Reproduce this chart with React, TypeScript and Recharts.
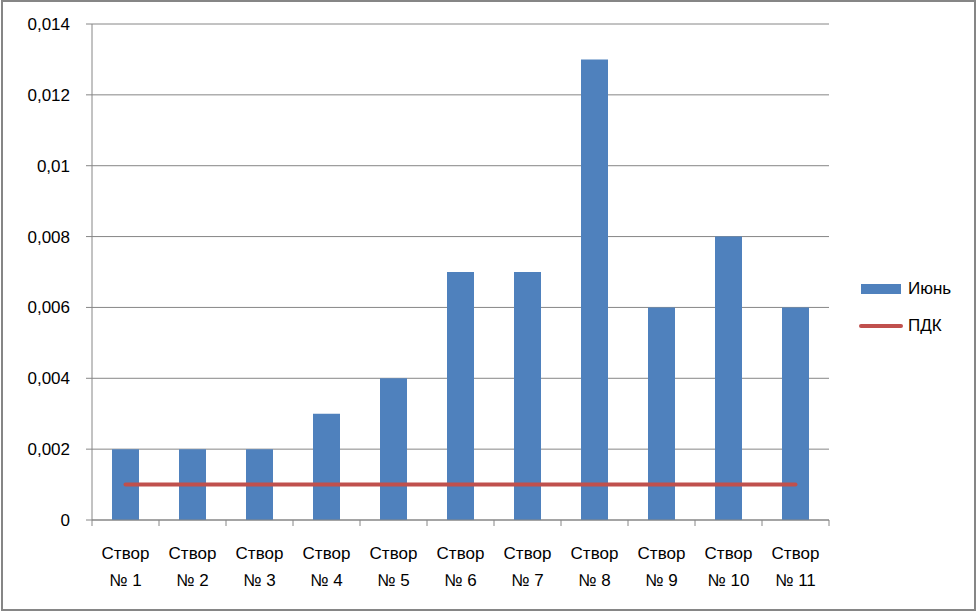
import React from 'react';
import { ComposedChart, Bar, Line, XAxis, YAxis, CartesianGrid, Legend } from 'recharts';

const categories = ['Створ № 1', 'Створ № 2', 'Створ № 3', 'Створ № 4', 'Створ № 5', 'Створ № 6', 'Створ № 7', 'Створ № 8', 'Створ № 9', 'Створ № 10', 'Створ № 11'];
const june = [0.002, 0.002, 0.002, 0.003, 0.004, 0.007, 0.007, 0.013, 0.006, 0.008, 0.006];
const pdk = [0.001, 0.001, 0.001, 0.001, 0.001, 0.001, 0.001, 0.001, 0.001, 0.001, 0.001];
const yTicks = [0, 0.002, 0.004, 0.006, 0.008, 0.01, 0.012, 0.014];

const data = categories.map((c, i) => ({ name: c, june: june[i], pdk: pdk[i] }));

const FONT = '"Liberation Sans", Arial, sans-serif';
const AXIS = '#868686';

const fmt = (v: number) => (v === 0 ? '0' : String(Number(v.toFixed(3))).replace('.', ','));

const XTick = (props: any) => {
  const { x, y, payload, index, visibleTicksCount, width } = props;
  const band = width / visibleTicksCount;
  const parts = String(payload.value).split(' ');
  const l1 = parts[0];
  const l2 = parts.slice(1).join(' ');
  const left = x - band / 2;
  return (
    <g>
      <line x1={left} x2={left} y1={y} y2={y + 6} stroke={AXIS} strokeWidth={1} />
      {index === visibleTicksCount - 1 && (
        <line x1={x + band / 2} x2={x + band / 2} y1={y} y2={y + 6} stroke={AXIS} strokeWidth={1} />
      )}
      <text x={x} y={y + 39} textAnchor="middle" fontFamily={FONT} fontSize={17} fill="#000">{l1}</text>
      <text x={x} y={y + 66} textAnchor="middle" fontFamily={FONT} fontSize={17} fill="#000">{l2}</text>
    </g>
  );
};

const LegendContent = (props: any) => {
  const { payload } = props;
  return (
    <div style={{ fontFamily: FONT, fontSize: 17, color: '#000' }}>
      {payload.map((p: any, i: number) => (
        <div key={i} style={{ display: 'flex', alignItems: 'center', height: 37 }}>
          {p.type === 'line' ? (
            <svg width={44} height={10} style={{ marginRight: 5 }}>
              <line x1={2} x2={42} y1={5} y2={5} stroke={p.color} strokeWidth={4} strokeLinecap="round" />
            </svg>
          ) : (
            <svg width={44} height={10} style={{ marginRight: 5 }}>
              <rect x={2} y={0} width={40} height={10} fill={p.color} />
            </svg>
          )}
          <span>{p.value}</span>
        </div>
      ))}
    </div>
  );
};

export default function App() {
  return (
    <div style={{ position: 'absolute', left: 0, top: 0, width: 977, height: 613, background: '#fff' }}>
      <ComposedChart width={977} height={613} data={data} margin={{ top: 24, right: 148, bottom: 0, left: 0 }}>
        <CartesianGrid horizontal={true} vertical={false} stroke={AXIS} strokeWidth={1} />
        <XAxis
          dataKey="name"
          height={93}
          axisLine={{ stroke: AXIS, strokeWidth: 1 }}
          tickLine={false}
          tickSize={0}
          tickMargin={0}
          interval={0}
          tick={<XTick />}
        />
        <YAxis
          width={92}
          domain={[0, 0.014]}
          ticks={yTicks}
          tickFormatter={fmt}
          axisLine={{ stroke: AXIS, strokeWidth: 1 }}
          tickLine={{ stroke: AXIS, strokeWidth: 1 }}
          tickSize={6}
          tickMargin={16}
          tick={{ fontFamily: FONT, fontSize: 17, fill: '#000' }}
        />
        <Bar dataKey="june" name="Июнь" fill="#4F81BD" barSize={27} isAnimationActive={false} legendType="rect" />
        <Line dataKey="pdk" name="ПДК" stroke="#C0504D" strokeWidth={4} dot={false} activeDot={false} strokeLinecap="round" isAnimationActive={false} legendType="line" />
        <Legend
          layout="horizontal"
          verticalAlign="middle"
          align="center"
          content={<LegendContent />}
          wrapperStyle={{ position: 'absolute', left: 859, top: 270, width: 110, right: 'auto', bottom: 'auto' }}
        />
      </ComposedChart>
      <div style={{ position: 'absolute', left: 1, top: 0, width: 975, height: 611, border: '2px solid #868686', boxSizing: 'border-box', pointerEvents: 'none' }} />
    </div>
  );
}
